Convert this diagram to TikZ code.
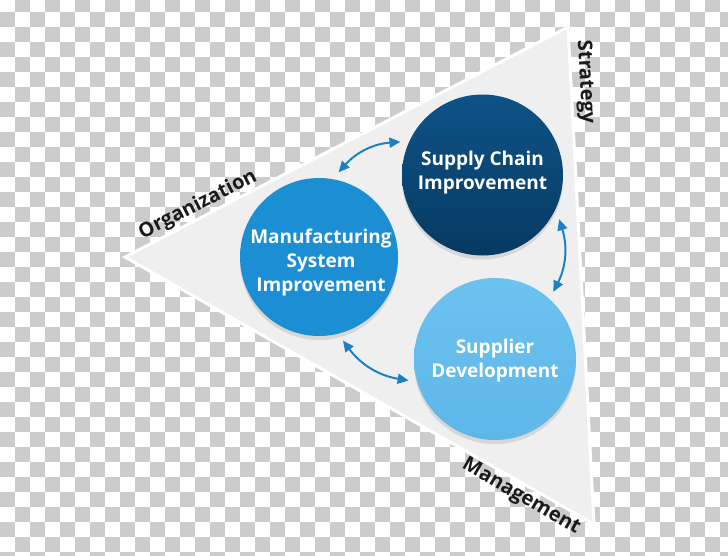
\documentclass[tikz,border=0pt]{standalone}
\usepackage{fontspec}
\setmainfont{Open Sans}
\usetikzlibrary{arrows.meta,shadows}
\definecolor{chkgray}{HTML}{CCCCCC}
\definecolor{trifill}{HTML}{EFEFEF}
\definecolor{mfgblue}{HTML}{1C8ED3}
\definecolor{navytop}{HTML}{0E5387}
\definecolor{navybot}{HTML}{073A62}
\definecolor{lightblue}{HTML}{6CC2EF}
\definecolor{lightbluebot}{HTML}{5DB7E8}
\definecolor{arrowblue}{HTML}{1D80C3}
\definecolor{labcol}{HTML}{1A1A1A}
\begin{document}
\begin{tikzpicture}[x=1pt,y=-1pt,
  bub/.style={circle, minimum size=160pt, inner sep=0pt, outer sep=8pt,
    drop shadow={opacity=0.22, shadow xshift=0pt, shadow yshift=-4pt}},
  bubtext/.style={text=white, font=\bfseries\fontsize{19}{24}\selectfont, align=center, inner sep=0pt},
  lab/.style={font=\bfseries\fontsize{20}{22}\selectfont, text=labcol, inner sep=0pt},
  link/.style={draw=arrowblue, line width=2pt,
    {Triangle[length=11pt,width=10pt]}-{Triangle[length=11pt,width=10pt]}}
]
\useasboundingbox (0,0) rectangle (728,555);
% transparent-background checkerboard
\fill[white] (0,0) rectangle (728,555);
\begin{scope}
\clip (0,0) rectangle (728,555);
\foreach \i in {0,...,48}{
  \foreach \j in {0,...,37}{
    \pgfmathtruncatemacro\pp{mod(\i+\j,2)}
    \ifnum\pp=1 \fill[chkgray] (15*\i,15*\j-3) rectangle ++(15,15); \fi
  }
}
\end{scope}
% triangle
\coordinate (tl) at (125,257);
\coordinate (tt) at (568,27);
\coordinate (tb) at (594,524);
\fill[trifill, draw=white, line width=3pt, line join=miter] (tl) -- (tt) -- (tb) -- cycle;
% edge labels
\node[lab, rotate=27] (org) at (198,205) {Organization};
\node[lab, rotate=-87] (str) at (585,82) {Strategy};
\node[lab, rotate=-30] (man) at (521,497) {Management};
% circles
\node[bub, fill=mfgblue, minimum size=158pt] (m) at (319,257) {};
\node[bub, top color=navytop, bottom color=navybot, minimum size=161pt] (s) at (482.5,175) {};
\node[bub, top color=lightblue, bottom color=lightbluebot, minimum size=162pt] (d) at (495,359) {};
% circle texts
\node[bubtext] (mt) at (321,263) {Manufacturing\\System\\Improvement};
\node[bubtext] (st) at (482.5,173) {Supply Chain\\Improvement};
\node[bubtext] (dt) at (495,361) {Supplier\\Development};
% connectors
\draw[link] (m.77) to[bend left=22] (s.158);
\draw[link] (s.-30) to[bend left=22] (d.49);
\draw[link] (m.-74) to[bend right=22] (d.194);
\end{tikzpicture}
\end{document}
